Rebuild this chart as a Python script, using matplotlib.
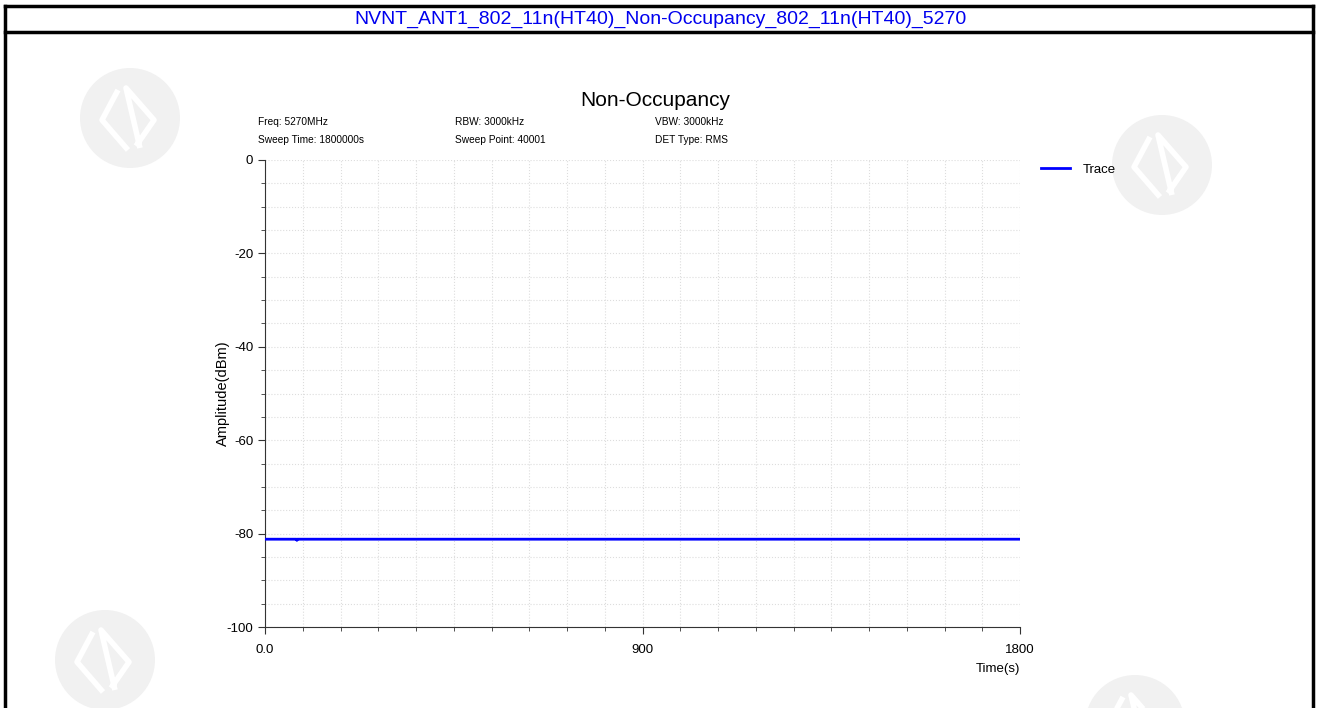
import matplotlib
matplotlib.use('Agg')

import matplotlib.pyplot as plt
from matplotlib.patches import Circle
from matplotlib.ticker import MultipleLocator, FixedLocator

# данные
trace_time = [0, 75, 76, 77, 1800]
trace_amp = [-81.2, -81.2, -81.45, -81.2, -81.2]
x_ticks = [0, 900, 1800]
x_tick_labels = ['0.0', '900', '1800']
y_ticks = [0, -20, -40, -60, -80, -100]

page_title = 'NVNT_ANT1_802_11n(HT40)_Non-Occupancy_802_11n(HT40)_5270'
chart_title = 'Non-Occupancy'
info_lines = [
    ['Freq: 5270MHz', 'RBW: 3000kHz', 'VBW: 3000kHz'],
    ['Sweep Time: 1800000s', 'Sweep Point: 40001', 'DET Type: RMS'],
]

plt.rcParams['font.family'] = ['Liberation Sans Narrow', 'Liberation Sans', 'DejaVu Sans']
plt.rcParams['axes.unicode_minus'] = False

W, H = 1318, 708
fig = plt.figure(figsize=(W / 100, H / 100), dpi=100)

# фоновый слой в пикселях: рамка и водяные знаки
bg = fig.add_axes([0, 0, 1, 1], zorder=-1)
bg.set_xlim(0, W)
bg.set_ylim(H, 0)
bg.axis('off')

for cx, cy, r in [(130, 118, 50), (1162, 165, 50), (105, 660, 50), (1135, 725, 50)]:
    bg.add_patch(Circle((cx, cy), r, color='#f1f1f1', lw=0))
    bg.plot([cx - 12, cx - 28, cx - 2], [cy - 28, cy + 2, cy + 32], color='white', lw=4,
            solid_capstyle='butt')
    bg.plot([cx + 10, cx - 4, cx + 24, cx + 6], [cy + 30, cy - 30, cy + 2, cy + 28],
            color='white', lw=4, solid_capstyle='butt')

frame_kw = dict(color='black', lw=2.5)
bg.plot([5, 5], [6, H], **frame_kw)
bg.plot([1313, 1313], [6, H], **frame_kw)
bg.plot([5, 1313], [6, 6], **frame_kw)
bg.plot([5, 1313], [32, 32], **frame_kw)
bg.text(660, 19, page_title, ha='center', va='center', fontsize=14, color='#0000ee')

# график
ax = fig.add_axes([265 / W, 1 - 627 / H, (1020 - 265) / W, (627 - 160) / H])
ax.patch.set_alpha(0)
ax.plot(trace_time, trace_amp, color='#0000ff', lw=2, label='Trace', zorder=3)

ax.set_xlim(0, 1800)
ax.set_ylim(-100, 0)
ax.xaxis.set_major_locator(FixedLocator(x_ticks))
ax.set_xticklabels(x_tick_labels)
ax.xaxis.set_minor_locator(MultipleLocator(90))
ax.yaxis.set_major_locator(FixedLocator(y_ticks))
ax.yaxis.set_minor_locator(MultipleLocator(5))

for side in ['top', 'right']:
    ax.spines[side].set_visible(False)
ax.spines['left'].set_color('#333333')
ax.spines['bottom'].set_color('#333333')
ax.tick_params(axis='both', which='major', length=5, labelsize=9.5, colors='#333333',
               labelcolor='black')
ax.tick_params(axis='both', which='minor', length=3, colors='#333333')
ax.tick_params(axis='x', pad=7)

ax.grid(True, which='both', linestyle=':', color='#dddddd', lw=0.8)
ax.set_axisbelow(True)

ax.set_ylabel('Amplitude(dBm)', fontsize=10.5, family=['Liberation Sans', 'DejaVu Sans'], labelpad=-2)
ax.yaxis.set_label_coords(-0.047, 0.5)
ax.text(1.0, -0.09, 'Time(s)', transform=ax.transAxes, ha='right', va='center', fontsize=9.5)

bg.text(655, 101, chart_title, ha='center', va='center', fontsize=15)
for row, py in zip(info_lines, [122, 140]):
    for txt, px in zip(row, [258, 455, 655]):
        bg.text(px, py, txt, ha='left', va='center', fontsize=7.3)

ax.legend(loc='upper left', bbox_to_anchor=(1.012, 1.018), frameon=False, fontsize=9.5,
          handlelength=2.2, handletextpad=1.0)

fig.savefig('out.png', dpi=100)
plt.close(fig)
